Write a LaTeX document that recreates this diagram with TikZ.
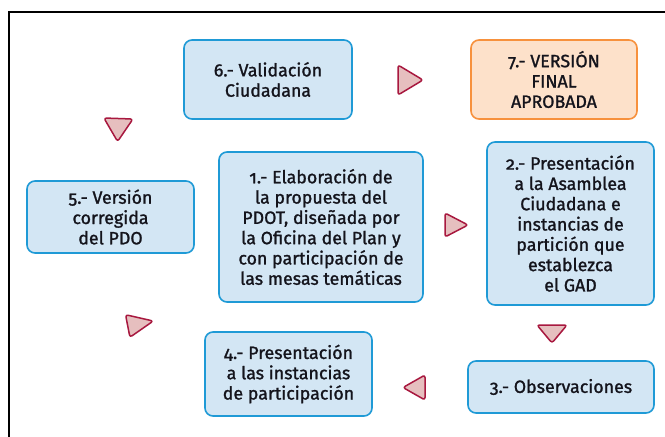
\documentclass[tikz,border=0pt]{standalone}
\usepackage{fontspec}
\setmainfont{Fira Sans}[Numbers=OldStyle,FakeBold=1.3]
\definecolor{boxfill}{HTML}{D3E6F4}
\definecolor{boxline}{HTML}{1F9AD6}
\definecolor{orfill}{HTML}{FDE1CA}
\definecolor{orline}{HTML}{F7913D}
\definecolor{trifill}{HTML}{E6BFBF}
\definecolor{triline}{HTML}{A8183F}
\definecolor{txt}{HTML}{14141C}
\begin{document}
\begin{tikzpicture}[x=1pt,y=-1pt,
  stage/.style={draw=boxline, fill=boxfill, line width=1.6pt, rounded corners=8pt,
    align=center, inner sep=0pt, text=txt, font=\fontsize{17.8}{20.3}\selectfont},
  final/.style={stage, draw=orline, fill=orfill},
  tri/.style={draw=triline, fill=trifill, line width=1.5pt, rounded corners=2.5pt, line join=round},
  pics/arrowtri/.style args={#1/#2}{code={
    \draw[tri] (#1/2,0) -- (-#1/2,#2/2) -- (-#1/2,-#2/2) -- cycle;}}
  ]
\useasboundingbox (0,0) rectangle (665,437);
\fill[white] (0,0) rectangle (665,437);
\draw[line width=2pt] (9,437) -- (9,12) -- (665,12);

\node[stage, minimum width=168pt, minimum height=79pt] (s6) at (268,79.5) {6.- Validación\\Ciudadana};
\node[final, minimum width=166pt, minimum height=79pt] (s7) at (554,79.5) {7.- VERSIÓN\\FINAL\\APROBADA};
\node[stage, minimum width=167pt, minimum height=72pt] (s5) at (110.5,217) {5.- Versión\\corregida\\del PDO};
\node[stage, minimum width=204pt, minimum height=150pt] (s1) at (321,227) {1.- Elaboración de\\la propuesta del\\PDOT, diseñada por\\la Oficina del Plan y\\con participación de\\las mesas temáticas};
\node[stage, minimum width=167pt, minimum height=163pt] (s2) at (570.5,223.5) {2.- Presentación\\a la Asamblea\\Ciudadana e\\instancias de\\partición que\\establezca\\el GAD};
\node[stage, minimum width=167pt, minimum height=84pt] (s4) at (288.5,374) {4.- Presentación\\a las instancias\\de participación};
\node[stage, minimum width=186pt, minimum height=52pt] (s3) at (561,387) {3.- Observaciones};

\pic at (410.5,80) {arrowtri={25/30}};
\pic at (456.5,225) {arrowtri={23/24}};
\pic[rotate=-90] at (552,334) {arrowtri={18/30}};
\pic[rotate=180] at (414,387.5) {arrowtri={22/25}};
\pic[rotate=11] at (140.5,323.5) {arrowtri={26/23}};
\pic[rotate=-92] at (118,130) {arrowtri={23/29}};
\end{tikzpicture}
\end{document}
